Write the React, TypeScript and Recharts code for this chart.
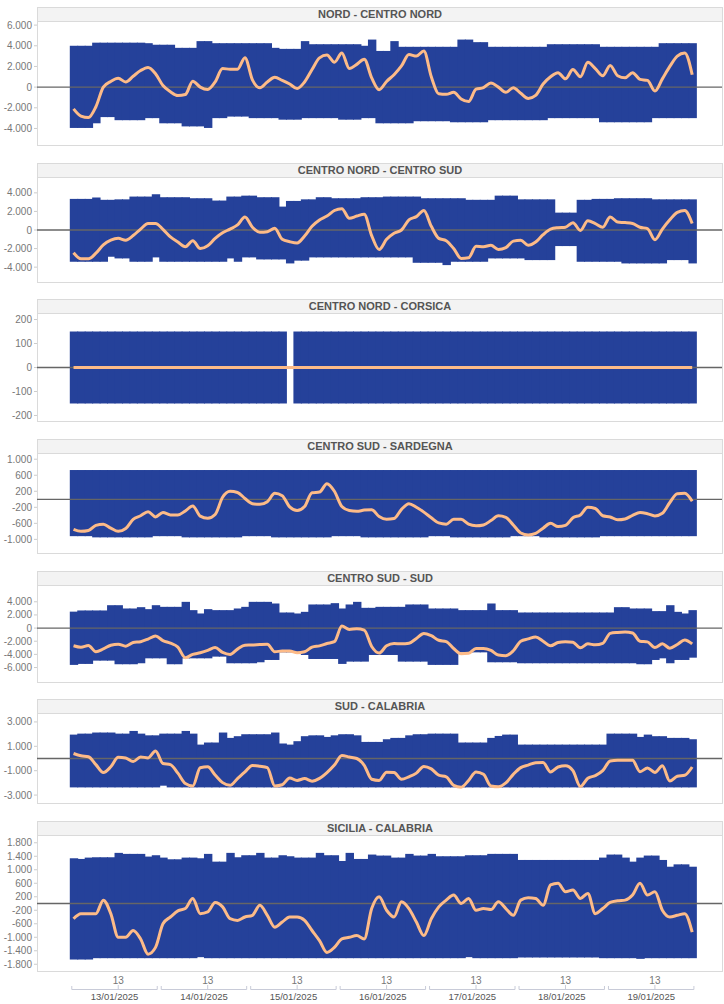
import React from 'react';
import { ComposedChart, Bar, Line, XAxis, YAxis, ReferenceLine } from 'recharts';

// 2-hour slots, 12 per day, 13/01 → 19/01
const DAY_LABELS = ['13/01/2025', '14/01/2025', '15/01/2025', '16/01/2025', '17/01/2025', '18/01/2025', '19/01/2025'];
const HOUR_TICKS = [13, 37, 61, 85, 109, 133, 157];

// NORD - CENTRO NORD
const NCN_MAX = [
  4000, 4000, 4000, 4300, 4300, 4300, 4300, 4300, 4300, 4300, 4250, 4100,
  4100, 4100, 3800, 3800, 3800, 4450, 4450, 4250, 4250, 4250, 4250, 4250,
  4250, 4250, 4250, 3800, 3700, 3700, 3700, 4450, 4150, 4150, 4150, 4150,
  4150, 4150, 4150, 4000, 4600, 3500, 3500, 4450, 3900, 3900, 3900, 3900,
  3900, 3900, 3900, 3900, 4600, 4600, 4350, 4350, 3900, 3900, 3900, 3900,
  3900, 3900, 3900, 3900, 4150, 4150, 4150, 4150, 4150, 4150, 4150, 3900,
  3900, 3900, 3900, 3900, 3900, 3900, 3900, 4250, 4250, 4250, 4250, 4250,
];
const NCN_MIN = [
  -3950, -3950, -3950, -3500, -2900, -2900, -3200, -3200, -3200, -3200, -3000, -3000,
  -3500, -3500, -3500, -3800, -3800, -3800, -3950, -3000, -3000, -2850, -2850, -2850,
  -3000, -3000, -3000, -3000, -3150, -3150, -3150, -3000, -3000, -3000, -3000, -3000,
  -3150, -3150, -3150, -3000, -3000, -3500, -3500, -3500, -3500, -3500, -3300, -3300,
  -3300, -3300, -3300, -3400, -3400, -3400, -3400, -3400, -3200, -3200, -3200, -3200,
  -3200, -3200, -3200, -3200, -3000, -3000, -3000, -3000, -3000, -3000, -3000, -3400,
  -3400, -3400, -3400, -3400, -3400, -3400, -3000, -3000, -3000, -3000, -3000, -3000,
];
const NCN_FLOW = [
  -2100, -2800, -2950, -1900, 0, 550, 850, 500, 1050, 1600, 1900, 1300,
  150, -450, -820, -720, 570, 0, -230, 500, 1800, 1730, 1730, 2850,
  700, -60, 500, 950, 650, 300, -140, 500, 1700, 2830, 3100, 2400,
  3300, 1800, 2200, 2700, 900, -250, 550, 1200, 2050, 3150, 3000, 3500,
  1000, -650, -700, -500, -1150, -1400, -200, -50, 400, 0, -500, -60,
  -600, -1100, -800, 300, 1000, 1400, 800, 1700, 1000, 2400, 1800, 1100,
  2100, 1100, 900, 1400, 750, 650, -380, 800, 2000, 3000, 3300, 1200,
];

// CENTRO NORD - CENTRO SUD
const CNCS_MAX = [
  3350, 3350, 3350, 3500, 3250, 3250, 3300, 3300, 3600, 3600, 3600, 3850,
  3530, 3530, 3530, 3530, 3420, 3420, 3420, 3170, 3170, 3600, 3600, 3700,
  3700, 3530, 3530, 3530, 2520, 3130, 3130, 3300, 3300, 3530, 3530, 3420,
  3420, 3420, 3420, 3530, 3530, 3530, 3600, 3600, 3600, 3600, 3600, 3420,
  3420, 3420, 3420, 3420, 3420, 3250, 3250, 3250, 3250, 3700, 3700, 3700,
  3300, 3300, 3300, 3300, 3300, 1870, 1870, 1870, 3250, 3250, 3350, 3350,
  3350, 3420, 3420, 3420, 3420, 3420, 3300, 3300, 3300, 3300, 3300, 3300,
];
const CNCS_MIN = [
  -3420, -3420, -3420, -3420, -3420, -2880, -3060, -3060, -3420, -3420, -3420, -2950,
  -3420, -3420, -3420, -3420, -3420, -3420, -3420, -3420, -3420, -3060, -3420, -2950,
  -2950, -3170, -3170, -3170, -3170, -3600, -3300, -3300, -2950, -2950, -2950, -2950,
  -2950, -2950, -2950, -2950, -2950, -2950, -2950, -2950, -2950, -2950, -3530, -3530,
  -3530, -3530, -3780, -3420, -3420, -3420, -3420, -3420, -3060, -3060, -3060, -3060,
  -3060, -3240, -3240, -3240, -3240, -1730, -1730, -1730, -3420, -3420, -3420, -3420,
  -3420, -3420, -3600, -3600, -3600, -3600, -3600, -3600, -3240, -3240, -3240, -3600,
];
const CNCS_FLOW = [
  -2450, -3100, -3100, -2500, -1600, -1100, -900, -1100, -600, 100, 700, 700,
  70, -750, -1300, -1800, -1150, -2000, -1700, -900, -300, 100, 550, 1400,
  300, -250, -180, 200, -1000, -1260, -1400, -650, 400, 1080, 1500, 2100,
  2300, 1260, 1500, 1700, -600, -2100, -1000, -350, 0, 1100, 1440, 2100,
  400, -900, -1150, -2000, -3060, -3000, -1750, -1800, -1650, -2100, -1900, -1200,
  -1100, -1650, -1300, -500, 100, 250, 300, 790, -50, 1000, 700, 300,
  1400, 850, 800, 700, 300, 150, -1050, 100, 1100, 1900, 2100, 700,
];

// CENTRO NORD - CORSICA
const CNCO_MAX = [
  150, 150, 150, 150, 150, 150, 150, 150, 150, 150, 150, 150,
  150, 150, 150, 150, 150, 150, 150, 150, 150, 150, 150, 150,
  150, 150, 150, 150, 150, null, 150, 150, 150, 150, 150, 150,
  150, 150, 150, 150, 150, 150, 150, 150, 150, 150, 150, 150,
  150, 150, 150, 150, 150, 150, 150, 150, 150, 150, 150, 150,
  150, 150, 150, 150, 150, 150, 150, 150, 150, 150, 150, 150,
  150, 150, 150, 150, 150, 150, 150, 150, 150, 150, 150, 150,
];
const CNCO_MIN = [
  -150, -150, -150, -150, -150, -150, -150, -150, -150, -150, -150, -150,
  -150, -150, -150, -150, -150, -150, -150, -150, -150, -150, -150, -150,
  -150, -150, -150, -150, -150, null, -150, -150, -150, -150, -150, -150,
  -150, -150, -150, -150, -150, -150, -150, -150, -150, -150, -150, -150,
  -150, -150, -150, -150, -150, -150, -150, -150, -150, -150, -150, -150,
  -150, -150, -150, -150, -150, -150, -150, -150, -150, -150, -150, -150,
  -150, -150, -150, -150, -150, -150, -150, -150, -150, -150, -150, -150,
];
const CNCO_FLOW = [
  0, 0, 0, 0, 0, 0, 0, 0, 0, 0, 0, 0,
  0, 0, 0, 0, 0, 0, 0, 0, 0, 0, 0, 0,
  0, 0, 0, 0, 0, 0, 0, 0, 0, 0, 0, 0,
  0, 0, 0, 0, 0, 0, 0, 0, 0, 0, 0, 0,
  0, 0, 0, 0, 0, 0, 0, 0, 0, 0, 0, 0,
  0, 0, 0, 0, 0, 0, 0, 0, 0, 0, 0, 0,
  0, 0, 0, 0, 0, 0, 0, 0, 0, 0, 0, 0,
];

// CENTRO SUD - SARDEGNA
const CSSA_MAX = [
  730, 730, 730, 730, 730, 730, 730, 730, 730, 730, 730, 730,
  730, 730, 730, 730, 730, 730, 730, 730, 730, 730, 730, 730,
  730, 730, 730, 730, 730, 730, 730, 730, 730, 730, 730, 730,
  730, 730, 730, 730, 730, 730, 730, 730, 730, 730, 730, 730,
  730, 730, 730, 730, 730, 730, 730, 730, 730, 730, 730, 730,
  730, 730, 730, 730, 730, 730, 730, 730, 730, 730, 730, 730,
  730, 730, 730, 730, 730, 730, 730, 730, 730, 730, 730, 730,
];
const CSSA_MIN = [
  -920, -920, -920, -950, -950, -950, -950, -950, -950, -950, -950, -920,
  -920, -920, -920, -950, -950, -950, -950, -950, -950, -950, -950, -920,
  -920, -920, -920, -950, -950, -950, -950, -950, -950, -950, -950, -920,
  -920, -920, -920, -950, -950, -950, -950, -950, -950, -950, -950, -950,
  -920, -920, -920, -950, -950, -950, -950, -950, -950, -950, -950, -920,
  -920, -920, -920, -950, -950, -950, -950, -950, -950, -950, -950, -920,
  -920, -920, -920, -920, -920, -920, -920, -920, -920, -920, -920, -920,
];
const CSSA_FLOW = [
  -750, -800, -780, -650, -620, -720, -800, -730, -500, -410, -310, -440,
  -330, -390, -390, -290, -165, -420, -475, -380, 50, 200, 170, 20,
  -110, -125, -60, 150, 90, -190, -280, -180, 165, 180, 390, 200,
  -180, -280, -300, -270, -260, -430, -500, -480, -250, -110, -200, -320,
  -460, -590, -620, -500, -500, -620, -660, -640, -530, -410, -450, -640,
  -840, -890, -850, -720, -600, -680, -650, -460, -390, -200, -230, -410,
  -440, -510, -490, -400, -330, -360, -415, -350, -80, 140, 150, -50,
];

// CENTRO SUD - SUD
const CSS_MAX = [
  2500, 2680, 2680, 2680, 2680, 3480, 3480, 2980, 2980, 3180, 2880, 3480,
  3230, 3230, 3230, 3990, 2730, 2220, 2880, 2730, 2730, 2730, 2980, 3230,
  3990, 3990, 3990, 3740, 2370, 2370, 2220, 2470, 3590, 3590, 3590, 3790,
  2980, 3590, 3990, 3080, 3080, 3230, 3230, 3230, 3230, 3590, 3590, 3590,
  2980, 2980, 2980, 2980, 2730, 2730, 2730, 2730, 3740, 2730, 2730, 2730,
  2370, 2370, 2370, 2370, 2370, 2370, 2370, 2370, 2370, 2370, 2370, 2370,
  2370, 3180, 3180, 2980, 2980, 2980, 2580, 2580, 3480, 2470, 2220, 2730,
];
const CSS_MIN = [
  -5600, -5450, -5450, -4950, -4950, -4950, -5500, -5500, -5500, -5350, -4600, -4600,
  -4600, -5500, -5500, -4600, -4600, -4600, -4600, -4340, -4340, -5350, -5350, -5350,
  -5350, -5200, -4850, -4850, -3690, -3690, -3690, -4090, -4700, -4700, -4700, -4700,
  -5450, -5100, -5100, -5100, -4090, -4090, -4090, -4090, -5100, -5100, -5100, -5100,
  -5600, -5600, -5600, -5600, -3690, -3690, -3690, -3690, -5200, -5200, -5200, -5200,
  -5350, -5350, -5350, -5350, -5350, -5350, -5350, -5350, -5350, -5350, -5350, -5350,
  -5350, -5350, -5350, -5350, -5500, -5500, -4850, -4600, -5350, -4850, -4850, -4500,
];
const CSS_FLOW = [
  -2680, -2900, -2650, -3600, -3180, -2600, -2450, -2750, -2200, -2070, -1670, -1200,
  -1900, -2300, -2900, -4500, -4000, -3750, -3400, -2950, -3700, -4000, -3200, -2600,
  -2580, -2500, -2450, -3600, -3480, -3480, -3750, -3600, -2900, -2700, -2350, -2070,
  300, -200, -100, -300, -2800, -3800, -2700, -2350, -2400, -2300, -1570, -810,
  -1160, -1850, -2050, -3100, -3900, -3840, -3100, -3100, -3400, -4100, -4200, -3450,
  -2000, -1650, -1350, -2000, -2700, -2200, -2070, -2150, -3000, -2400, -2550, -2320,
  -800, -660, -600, -750, -2000, -2100, -2950, -2400, -3050, -2500, -1800, -2400,
];

// SUD - CALABRIA
const SCA_MAX = [
  1960, 2040, 2040, 2130, 2130, 2130, 2040, 2040, 2260, 2040, 1900, 1900,
  2040, 2040, 2040, 2260, 2040, 1140, 1310, 1310, 2130, 1690, 1830, 1990,
  1990, 1990, 1990, 2130, 1230, 1140, 1420, 1830, 1900, 1900, 1770, 1900,
  1990, 1990, 1900, 1360, 1360, 1360, 1580, 1690, 1690, 1900, 1990, 1990,
  2040, 2040, 2040, 2040, 1310, 1310, 1310, 1310, 1690, 1850, 1960, 1960,
  1140, 1140, 1140, 1140, 1140, 1140, 1140, 1140, 1140, 1140, 1140, 1140,
  2040, 2040, 2040, 2040, 1770, 1960, 1830, 1830, 1690, 1690, 1690, 1580,
];
const SCA_MIN = [
  -2370, -2370, -2370, -2370, -2370, -2370, -2370, -2370, -2370, -2370, -2370, -2370,
  -2230, -2370, -2370, -2370, -2370, -2370, -2370, -2370, -2370, -2370, -2370, -2370,
  -2370, -2370, -2370, -2370, -2370, -2370, -2370, -2370, -2370, -2370, -2370, -2370,
  -2370, -2370, -2370, -2370, -2370, -2370, -2370, -2370, -2370, -2370, -2370, -2370,
  -2370, -2370, -2370, -2370, -2370, -2370, -2370, -2370, -2370, -2370, -2370, -2370,
  -2370, -2370, -2370, -2370, -2370, -2370, -2370, -2370, -2370, -2370, -2370, -2370,
  -2370, -2370, -2370, -2370, -2370, -2370, -2370, -2370, -2370, -2370, -2370, -2370,
];
const SCA_FLOW = [
  410, 220, 140, -500, -1150, -680, 100, 40, -250, 130, 50, 620,
  -410, -500, -1200, -2050, -2250, -760, -680, -1350, -1980, -2200, -1650, -1100,
  -570, -640, -750, -2250, -2150, -1600, -1800, -1650, -1860, -1630, -1150, -540,
  250, 120, 0, -560, -1700, -1800, -1120, -1150, -1700, -1500, -1200, -650,
  -850, -1370, -1500, -2200, -2350, -1800, -1100, -1300, -2250, -2320, -2000, -1300,
  -750, -540, -350, -330, -1100, -700, -600, -1000, -2300, -1620, -1400, -1000,
  -200, -140, -140, -150, -1080, -780, -1140, -600, -1850, -1450, -1370, -700,
];

// SICILIA - CALABRIA
const SICA_MAX = [
  1340, 1320, 1360, 1370, 1370, 1370, 1500, 1470, 1470, 1470, 1390, 1430,
  1360, 1310, 1310, 1360, 1360, 1340, 1470, 1240, 1240, 1500, 1370, 1430,
  1430, 1500, 1360, 1360, 1430, 1400, 1360, 1360, 1360, 1500, 1430, 1430,
  1260, 1500, 1320, 1320, 1450, 1420, 1420, 1360, 1360, 1470, 1420, 1420,
  1470, 1400, 1400, 1400, 1400, 1430, 1430, 1430, 1470, 1470, 1470, 1470,
  1290, 1290, 1290, 1290, 1290, 1290, 1290, 1290, 1290, 1290, 1290, 1360,
  1450, 1450, 1360, 1240, 1360, 1420, 1420, 1290, 1090, 1160, 1160, 1090,
];
const SICA_MIN = [
  -1660, -1660, -1660, -1620, -1620, -1620, -1620, -1620, -1620, -1620, -1620, -1620,
  -1620, -1620, -1620, -1620, -1620, -1590, -1620, -1620, -1620, -1620, -1620, -1620,
  -1620, -1620, -1620, -1620, -1620, -1620, -1620, -1620, -1620, -1620, -1620, -1620,
  -1620, -1620, -1620, -1620, -1620, -1620, -1620, -1620, -1620, -1620, -1620, -1620,
  -1620, -1620, -1620, -1620, -1620, -1590, -1620, -1620, -1620, -1620, -1620, -1620,
  -1600, -1600, -1600, -1600, -1600, -1600, -1600, -1600, -1600, -1600, -1600, -1620,
  -1620, -1620, -1620, -1620, -1640, -1620, -1620, -1620, -1620, -1620, -1620, -1620,
];
const SICA_FLOW = [
  -450, -300, -300, -300, 100, -300, -1000, -1000, -800, -1050, -1500, -1300,
  -600, -400, -220, -150, 150, -300, -250, 30, -100, -450, -500, -400,
  -350, -50, -350, -700, -550, -400, -400, -500, -800, -1100, -1450, -1300,
  -1050, -1000, -950, -1050, -150, 200, -200, -400, 50, -150, -550, -950,
  -450, -100, 100, 250, 0, 150, -200, -150, -180, 50, -150, -350,
  100, 170, 150, -50, 550, 600, 350, 400, 150, 300, -300, -150,
  30, 80, 100, 250, 600, 250, 350, -200, -400, -350, -300, -850,
];

const BLUE = '#25419a';
const ORANGE = '#fdbb88';
const FONT = '"Liberation Sans", Arial, sans-serif';
const X_DOMAIN: [number, number] = [-8.8, 175];
const PLOT_LEFT = 37;
const PLOT_RIGHT = 722;
const PX_PER_HOUR = (PLOT_RIGHT - PLOT_LEFT) / (X_DOMAIN[1] - X_DOMAIN[0]);

const PANELS = [
  { title: 'NORD - CENTRO NORD', max: NCN_MAX, min: NCN_MIN, flow: NCN_FLOW, domain: [-5600, 6300], ticks: [-4000, -2000, 0, 2000, 4000, 6000], top: 7, bottom: 145 },
  { title: 'CENTRO NORD - CENTRO SUD', max: CNCS_MAX, min: CNCS_MIN, flow: CNCS_FLOW, domain: [-5600, 5600], ticks: [-4000, -2000, 0, 2000, 4000], top: 163, bottom: 282 },
  { title: 'CENTRO NORD - CORSICA', max: CNCO_MAX, min: CNCO_MIN, flow: CNCO_FLOW, domain: [-223, 223], ticks: [-200, -100, 0, 100, 200], top: 299, bottom: 421 },
  { title: 'CENTRO SUD - SARDEGNA', max: CSSA_MAX, min: CSSA_MIN, flow: CSSA_FLOW, domain: [-1340, 1130], ticks: [-1000, -600, -200, 200, 600, 1000], top: 439, bottom: 553 },
  { title: 'CENTRO SUD - SUD', max: CSS_MAX, min: CSS_MIN, flow: CSS_FLOW, domain: [-8200, 6400], ticks: [-6000, -4000, -2000, 0, 2000, 4000], top: 571, bottom: 682 },
  { title: 'SUD - CALABRIA', max: SCA_MAX, min: SCA_MIN, flow: SCA_FLOW, domain: [-3650, 3650], ticks: [-3000, -1000, 1000, 3000], top: 699, bottom: 803 },
  { title: 'SICILIA - CALABRIA', max: SICA_MAX, min: SICA_MIN, flow: SICA_FLOW, domain: [-2000, 2000], ticks: [-1800, -1400, -1000, -600, -200, 200, 600, 1000, 1400, 1800], top: 821, bottom: 971 },
];

const fmt = (v: number) => {
  const s = String(Math.abs(v)).replace(/\B(?=(\d{3})+(?!\d))/g, '.');
  return (v < 0 ? '-' : '') + s;
};

function YTick(props: any) {
  const { x, y, payload } = props;
  return (
    <text x={x} y={y} dy="0.35em" textAnchor="end" fontSize={10} fill="#777">
      {fmt(Number(payload.value))}
    </text>
  );
}

function DayTick(props: any) {
  const { x, y, payload } = props;
  const day = Math.floor(payload.value / 24);
  const start = x - 13 * PX_PER_HOUR + 2;
  const end = x + 11 * PX_PER_HOUR - 2;
  return (
    <g>
      <text x={x} y={y + 9} dy="0.35em" textAnchor="middle" fontSize={10} fill="#777">
        {payload.value % 24}
      </text>
      <line x1={x} x2={x} y1={y + 14} y2={y + 18} stroke="#c8cbd8" />
      <path d={`M${start},${y + 15}V${y + 18.5}H${end}V${y + 15}`} fill="none" stroke="#c8cbd8" />
      <text x={x - PX_PER_HOUR} y={y + 26} dy="0.35em" textAnchor="middle" fontSize={9.5} fill="#555">
        {DAY_LABELS[day]}
      </text>
    </g>
  );
}

// each range bar is widened by 1px so neighbouring bars meet without seams
function BandShape(props: any) {
  const { x, y, width, height } = props;
  if (x == null || y == null || !width || !height) return null;
  const top = Math.min(y, y + height);
  return <rect x={x} y={top} width={width + 1} height={Math.abs(height)} fill={BLUE} />;
}

function Panel({ p, last }: { p: any; last: boolean }) {
  const chartTop = p.top + 15;
  const plotH = p.bottom - chartTop;
  const rows = p.flow.map((f: number, i: number) => ({
    hour: i * 2 + 1,
    band: p.max[i] == null ? null : [p.min[i], p.max[i]],
    flow: f,
  }));
  return (
    <>
      <div
        style={{
          position: 'absolute', left: PLOT_LEFT, top: p.top, width: PLOT_RIGHT - PLOT_LEFT + 1,
          height: p.bottom - p.top + 1, border: '1px solid #dadada', boxSizing: 'border-box',
        }}
      >
        <div
          style={{
            height: 13, lineHeight: '13px', background: '#f3f3f3', borderBottom: '1px solid #dadada',
            textAlign: 'center', fontWeight: 'bold', fontSize: 11, color: '#555',
          }}
        >
          {p.title}
        </div>
      </div>
      <div style={{ position: 'absolute', left: 0, top: chartTop }}>
        <ComposedChart
          width={724}
          height={plotH + (last ? 33 : 0)}
          data={rows}
          margin={{ top: 0, right: 724 - PLOT_RIGHT, left: 0, bottom: 0 }}
          barCategoryGap={0}
          barGap={0}
        >
          <XAxis
            type="number"
            dataKey="hour"
            domain={X_DOMAIN}
            allowDataOverflow
            hide={!last}
            ticks={HOUR_TICKS}
            interval={0}
            height={33}
            axisLine={false}
            tickLine={false}
            tickSize={0}
            tickMargin={0}
            tick={<DayTick />}
          />
          <YAxis
            type="number"
            domain={p.domain}
            allowDataOverflow
            ticks={p.ticks}
            interval={0}
            width={PLOT_LEFT}
            axisLine={false}
            tickSize={3}
            tickMargin={2}
            tickLine={{ stroke: '#cccccc' }}
            tick={<YTick />}
          />
          <Bar dataKey="band" fill={BLUE} barSize={7.4} shape={<BandShape />} isAnimationActive={false} />
          <ReferenceLine y={0} stroke="#666" strokeWidth={1.3} />
          <Line
            type="monotone"
            dataKey="flow"
            stroke={ORANGE}
            strokeWidth={3}
            dot={false}
            activeDot={false}
            isAnimationActive={false}
          />
        </ComposedChart>
      </div>
    </>
  );
}

export default function App() {
  return (
    <div style={{ position: 'relative', width: 724, height: 1004, background: '#fff', fontFamily: FONT }}>
      <style>{'html,body{margin:0;padding:0}.recharts-surface{overflow:visible}'}</style>
      {PANELS.map((p, i) => (
        <Panel key={p.title} p={p} last={i === PANELS.length - 1} />
      ))}
    </div>
  );
}
